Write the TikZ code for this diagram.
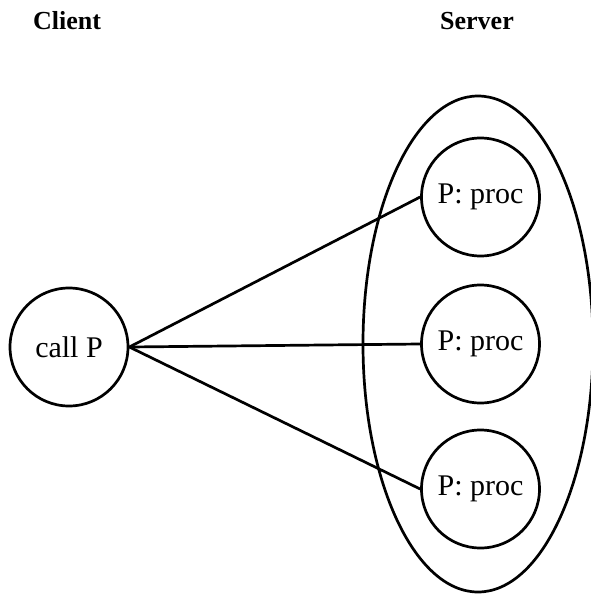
\documentclass[tikz,border=0pt]{standalone}
\usepackage{fontspec}
\setmainfont{Liberation Serif}
\usetikzlibrary{shapes.geometric}
\begin{document}
\begin{tikzpicture}[x=0.5pt,y=-0.5pt,
  proc/.style={circle,draw,line width=1.35pt,minimum size=59pt,inner sep=0pt,
               font=\fontsize{15}{18}\selectfont},
  group/.style={ellipse,draw,line width=1.35pt,inner sep=0pt},
  link/.style={line width=1.35pt},
  head/.style={font=\fontsize{13}{16}\selectfont\bfseries}]
\useasboundingbox (0,0) rectangle (590,594);

% column headings
\node[head] (clientlbl) at (67,21) {Client};
\node[head] (serverlbl) at (477,21) {Server};

% the server and its procedure instances
\node[group,minimum width=115pt,minimum height=248pt] (server) at (478,344) {};
\node[proc] (p1) at (480.5,197) {P: proc};
\node[proc] (p2) at (480.5,344) {P: proc};
\node[proc] (p3) at (480.5,489) {P: proc};

% the caller
\node[proc] (call) at (69,347) {call P};

% calls to each instance
\draw[link] (call.east) -- (p1.west);
\draw[link] (call.east) -- (p2.west);
\draw[link] (call.east) -- (p3.west);
\end{tikzpicture}
\end{document}
